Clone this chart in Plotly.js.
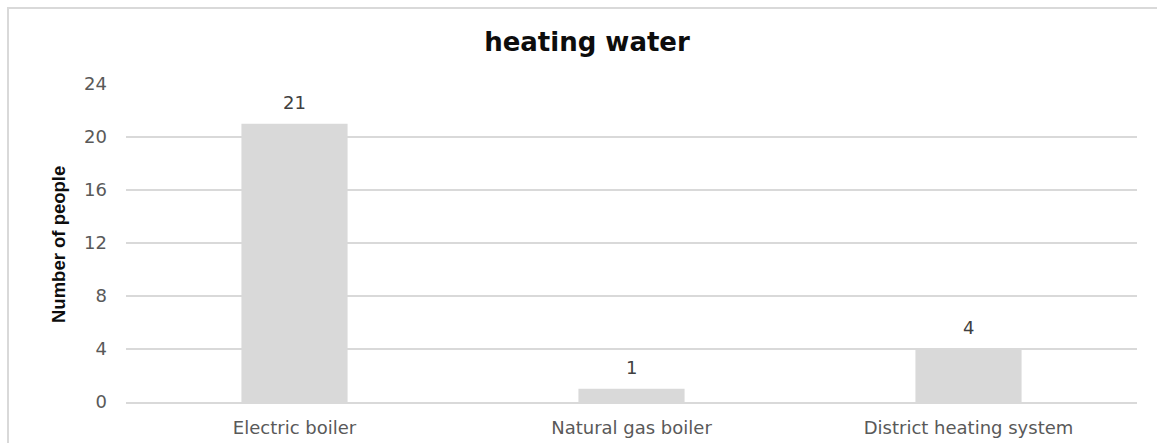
<!DOCTYPE html>
<html>
<head>
<meta charset="utf-8">
<script src="https://cdn.plot.ly/plotly-3.0.1.min.js"></script>
<style>
  html, body { margin: 0; padding: 0; background: #fff; }
  #wrap { position: relative; width: 1157px; height: 443px; overflow: hidden; }
  #chart { position: absolute; left: 0; top: 0; width: 1157px; height: 443px; }
  #frame { position: absolute; left: 7px; top: 7px; width: 1200px; height: 500px;
           border-left: 2px solid #d9d9d9; border-top: 2px solid #d9d9d9; pointer-events: none; }
</style>
</head>
<body>
<div id="wrap">
  <div id="chart"></div>
  <div id="frame"></div>
</div>
<script>
const categories = ["Electric boiler", "Natural gas boiler", "District heating system"];
const values = [21, 1, 4];
const yTicks = [0, 4, 8, 12, 16, 20, 24];
const chartTitle = "heating water";
const yTitle = "Number of people";

const tickFont = { family: "DejaVu Sans", size: 18, color: "#595959" };

const trace = {
  type: "bar",
  x: categories,
  y: values,
  marker: { color: "#d9d9d9" },
  hoverinfo: "none"
};

const labelAnnotations = categories.map((c, i) => ({
  x: c, y: values[i], xref: "x", yref: "y",
  text: String(values[i]),
  showarrow: false, yanchor: "bottom", yshift: 9,
  font: { family: "DejaVu Sans", size: 18, color: "#404040" }
}));

const layout = {
  width: 1157, height: 443,
  margin: { l: 126, r: 20, t: 84, b: 41, pad: 0 },
  paper_bgcolor: "#ffffff", plot_bgcolor: "#ffffff",
  showlegend: false,
  bargap: 0.685,
  title: {
    text: chartTitle,
    x: 587 / 1157, xref: "container", xanchor: "center",
    y: 1 - 42 / 443, yref: "container", yanchor: "middle",
    font: { family: "DejaVu Sans", size: 26, color: "#0d0d0d", weight: "bold" }
  },
  xaxis: {
    type: "category",
    range: [-0.5, 2.5],
    showgrid: false, zeroline: false,
    showline: true, linecolor: "#d9d9d9", linewidth: 1.5,
    ticks: "", ticklabelstandoff: 9,
    tickfont: tickFont,
    fixedrange: true
  },
  yaxis: {
    range: [0, 24],
    tickvals: yTicks,
    ticktext: yTicks.map(String),
    showgrid: true, gridcolor: "#d9d9d9", gridwidth: 1.5,
    zeroline: false, showline: false,
    ticks: "", ticklabelstandoff: 18,
    tickfont: tickFont,
    fixedrange: true
  },
  annotations: labelAnnotations.concat([{
    text: yTitle,
    xref: "paper", yref: "paper",
    x: (58 - 126) / 1011, y: (402 - 245) / 318,
    xanchor: "center", yanchor: "middle",
    textangle: -90, showarrow: false,
    font: { family: "Liberation Sans", size: 18.5, color: "#0d0d0d", weight: "bold" }
  }])
};

Plotly.newPlot("chart", [trace], layout, { displayModeBar: false, staticPlot: true });
</script>
</body>
</html>
